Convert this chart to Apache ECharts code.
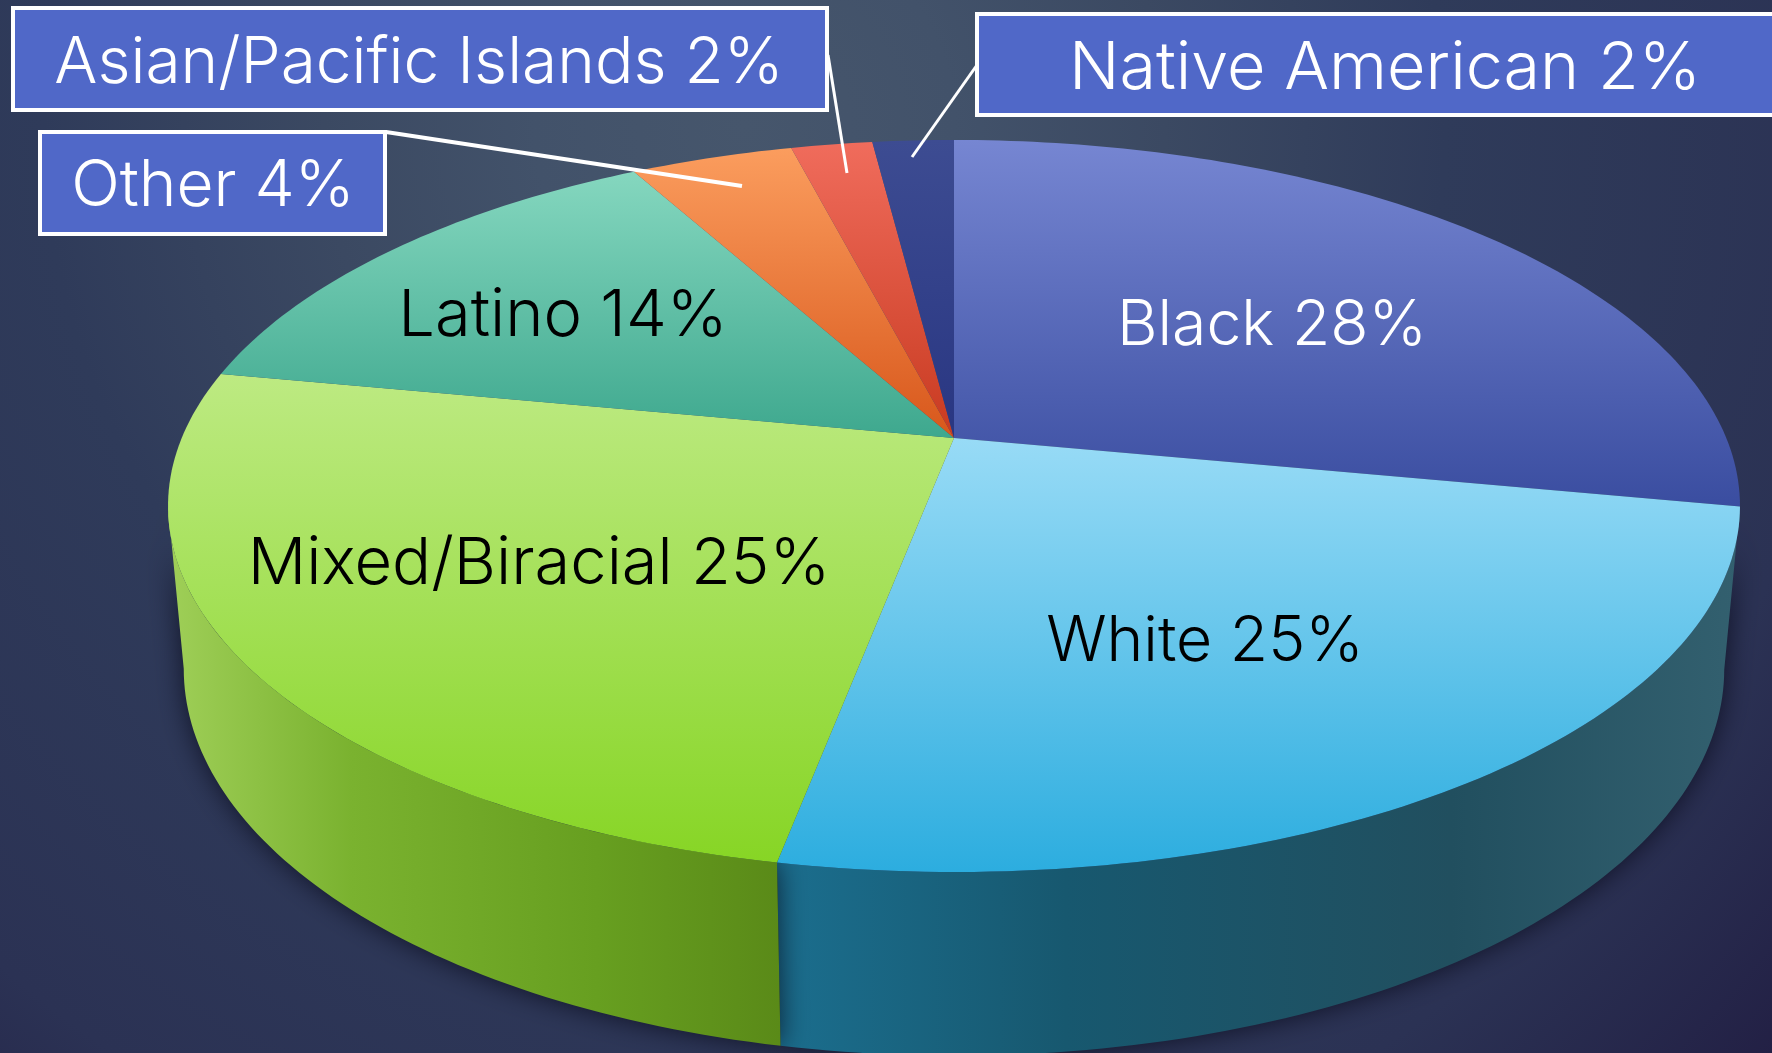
<!DOCTYPE html>
<html>
<head>
<meta charset="utf-8">
<title>Pie</title>
<script src="https://cdn.jsdelivr.net/npm/echarts@6/dist/echarts.min.js"></script>
<style>
  html, body { margin: 0; padding: 0; background: #2a3050; }
  #chart { width: 1772px; height: 1053px; }
</style>
</head>
<body>
<div id="chart"></div>
<script>
// data
const groups = ['Black', 'White', 'Mixed/Biracial', 'Latino', 'Other', 'Asian/Pacific Islands', 'Native American'];
const shares = [28, 25, 25, 14, 4, 2, 2];

// colours, top of slice -> bottom of slice
const topColors = [
  ['#7686d2', '#3a4da0'],
  ['#98dbf6', '#2caddf'],
  ['#bdea82', '#87d525'],
  ['#85d7bf', '#3ea88e'],
  ['#fb9d5e', '#d8571b'],
  ['#f06c5c', '#c83a20'],
  ['#3d4c92', '#293682']
];
// left -> right, only the slices that face the viewer show a side wall
const wallColors = [
  null,
  ['#1b6e8e', '#17586f', '#214f5f', '#33606f'],
  ['#9fcf58', '#7ab22f', '#679f20', '#5a8a18'],
  null, null, null, null
];

// perspective of the disc, px
const cx = 954, apexY = 438;
const A = 772.3, B = 353.4, k = 0.1857;
const wallSx = 0.98, wallSy = 1.057, wallY = 597;

const total = shares.reduce((a, b) => a + b, 0);
const toRad = Math.PI / 180;
// where the rim turns away from the viewer
const frontFrom = Math.acos(-k) / toRad;
const frontTo = 360 - frontFrom;

function project(deg, sx, sy, y0) {
  const X = Math.sin(deg * toRad);
  const Y = -Math.cos(deg * toRad);
  const w = 1 - k * Y;
  return [cx + sx * A * X / w, y0 + sy * B * Y / w];
}

function sliceRange(i) {
  let sum = 0;
  for (let j = 0; j < i; j++) sum += shares[j];
  return [sum / total * 360, (sum + shares[i]) / total * 360];
}

function arc(from, to, sx, sy, y0) {
  const pts = [];
  const n = Math.max(4, Math.ceil(to - from));
  for (let s = 0; s <= n; s++) pts.push(project(from + (to - from) * s / n, sx, sy, y0));
  return pts;
}

function renderTop(params, api) {
  const i = params.dataIndex;
  const r = sliceRange(i);
  const c = topColors[i];
  return {
    type: 'polygon',
    shape: { points: [[cx, apexY]].concat(arc(r[0], r[1], 1, 1, apexY)) },
    style: { fill: new echarts.graphic.LinearGradient(0, 0, 0, 1, [
      { offset: 0, color: c[0] }, { offset: 1, color: c[1] }
    ]) }
  };
}

function renderWall(params, api) {
  const i = params.dataIndex;
  const c = wallColors[i];
  if (!c) return null;
  const r = sliceRange(i);
  const from = Math.max(r[0], frontFrom);
  const to = Math.min(r[1], frontTo);
  const points = arc(from, to, 1, 1, apexY).concat(arc(from, to, wallSx, wallSy, wallY).reverse());
  return {
    type: 'polygon',
    shape: { points: points },
    style: {
      fill: new echarts.graphic.LinearGradient(0, 0, 1, 0, [
        { offset: 0, color: c[0] },
        { offset: 0.3, color: c[1] },
        { offset: 0.7, color: c[2] },
        { offset: 1, color: c[3] }
      ]),
      shadowColor: 'rgba(5,5,20,0.75)',
      shadowBlur: 28
    }
  };
}

const seriesData = groups.map((g, i) => ({ name: g, value: shares[i] }));
const labelOf = i => groups[i] + ' ' + shares[i] + '%';

const fontFamily = 'Inter, "DejaVu Sans", sans-serif';

function textEl(i, x, y, size, color) {
  return {
    type: 'text', z: 100, x: x, y: y,
    style: {
      text: labelOf(i), fill: color,
      font: '300 ' + size + 'px ' + fontFamily,
      textAlign: 'center', textVerticalAlign: 'middle'
    }
  };
}
function boxEl(x, y, w, h) {
  return {
    type: 'rect', z: 99,
    shape: { x: x, y: y, width: w, height: h },
    style: { fill: '#5068c8', stroke: '#ffffff', lineWidth: 4 }
  };
}
function leaderEl(x1, y1, x2, y2, lw) {
  return {
    type: 'line', z: 98,
    shape: { x1: x1, y1: y1, x2: x2, y2: y2 },
    style: { stroke: '#ffffff', lineWidth: lw }
  };
}

const chart = echarts.init(document.getElementById('chart'));
chart.setOption({
  animation: false,
  backgroundColor: new echarts.graphic.RadialGradient(0.42, 0.12, 1.33, [
    { offset: 0, color: '#46566c' },
    { offset: 0.15, color: '#42526a' },
    { offset: 0.3, color: '#3b4962' },
    { offset: 0.5, color: '#2f3b5a' },
    { offset: 0.8, color: '#2b3254' },
    { offset: 1, color: '#221f44' }
  ]),
  series: [
    { type: 'custom', coordinateSystem: 'none', z: 2, silent: true, renderItem: renderWall, data: seriesData },
    { type: 'custom', coordinateSystem: 'none', z: 3, silent: true, renderItem: renderTop, data: seriesData }
  ],
  graphic: { elements: [
    leaderEl(828, 55, 847, 173, 3),
    leaderEl(386, 132, 742, 186, 4),
    leaderEl(977, 65, 912, 157, 3),
    boxEl(13, 8, 814, 102),
    boxEl(40, 132, 345, 102),
    boxEl(977, 14, 830, 101),
    textEl(5, 419, 64, 64, '#ffffff'),
    textEl(4, 213, 187, 64, '#ffffff'),
    textEl(6, 1385, 69, 66.5, '#ffffff'),
    textEl(0, 1272, 326, 62.5, '#ffffff'),
    textEl(1, 1205, 642, 62.5, '#000000'),
    textEl(2, 539, 564, 65, '#000000'),
    textEl(3, 563, 316, 65, '#000000')
  ] }
});
</script>
</body>
</html>
